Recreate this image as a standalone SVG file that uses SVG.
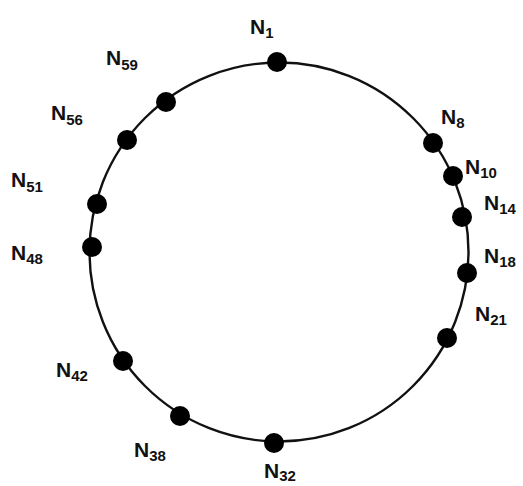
<svg xmlns="http://www.w3.org/2000/svg" width="523" height="486" viewBox="0 0 523 486">
<style>
.ring{fill:none;stroke:#111;stroke-width:2.4}
.dot{fill:#000}
.lbl{font-family:"Liberation Sans",Arial,sans-serif;font-weight:bold;font-size:21px;fill:#111}
.sub{font-size:15px}
</style>
<rect width="523" height="486" fill="#fff"/>
<g id="connectors">
<circle class="ring" cx="279" cy="252" r="189.5"/>
</g>
<g id="N1"><circle class="dot" cx="277" cy="62" r="10"/><text class="lbl" x="250" y="34">N<tspan class="sub" dy="4">1</tspan></text></g>
<g id="N8"><circle class="dot" cx="433" cy="143" r="10"/><text class="lbl" x="441" y="124">N<tspan class="sub" dy="4">8</tspan></text></g>
<g id="N10"><circle class="dot" cx="453" cy="176" r="10"/><text class="lbl" x="465" y="174">N<tspan class="sub" dy="4">10</tspan></text></g>
<g id="N14"><circle class="dot" cx="462" cy="217" r="10"/><text class="lbl" x="484" y="210">N<tspan class="sub" dy="4">14</tspan></text></g>
<g id="N18"><circle class="dot" cx="467" cy="273" r="10"/><text class="lbl" x="484" y="263">N<tspan class="sub" dy="4">18</tspan></text></g>
<g id="N21"><circle class="dot" cx="447" cy="338" r="10"/><text class="lbl" x="475" y="321">N<tspan class="sub" dy="4">21</tspan></text></g>
<g id="N32"><circle class="dot" cx="274" cy="443" r="10"/><text class="lbl" x="264" y="478">N<tspan class="sub" dy="3">32</tspan></text></g>
<g id="N38"><circle class="dot" cx="180" cy="416" r="10"/><text class="lbl" x="134" y="457">N<tspan class="sub" dy="4">38</tspan></text></g>
<g id="N42"><circle class="dot" cx="123" cy="361" r="10"/><text class="lbl" x="56" y="377">N<tspan class="sub" dy="4">42</tspan></text></g>
<g id="N48"><circle class="dot" cx="92" cy="247" r="10"/><text class="lbl" x="11" y="260">N<tspan class="sub" dy="4">48</tspan></text></g>
<g id="N51"><circle class="dot" cx="97" cy="204" r="10"/><text class="lbl" x="11" y="187">N<tspan class="sub" dy="5">51</tspan></text></g>
<g id="N56"><circle class="dot" cx="127" cy="140" r="10"/><text class="lbl" x="51" y="120">N<tspan class="sub" dy="5">56</tspan></text></g>
<g id="N59"><circle class="dot" cx="166" cy="102" r="10"/><text class="lbl" x="106" y="65">N<tspan class="sub" dy="5">59</tspan></text></g>
</svg>
